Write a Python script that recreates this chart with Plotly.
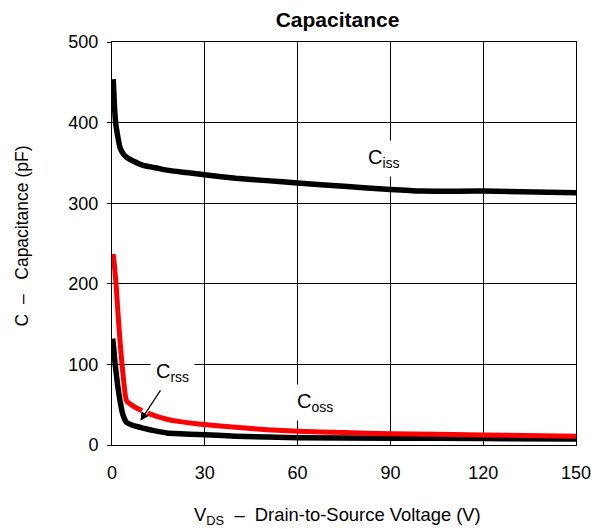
import plotly.graph_objects as go

# Data
v_ciss = [0.4, 0.8, 1.2, 2.0, 2.6, 3.5, 4.7, 7, 10, 14, 17.7, 24, 30.6, 40, 50, 60, 75, 90, 100, 120, 150]
ciss = [454, 420, 399, 380, 369, 362, 357, 352, 347, 344, 341, 338, 335, 331, 328, 325, 321, 317, 315, 315, 313]

v_coss = [0.4, 0.8, 1.3, 2.0, 2.6, 3.5, 4.7, 7, 10, 14, 17.7, 22, 28, 40, 50, 60, 75, 90, 120, 150]
coss = [237, 222, 200, 160, 129, 90, 55, 48, 42, 36, 32, 29, 26, 22, 19, 17, 15.5, 14, 12.5, 11]

v_crss = [0.2, 0.6, 1.0, 1.8, 2.6, 3.5, 4.7, 7, 10, 14, 17.7, 22, 28, 40, 60, 90, 120, 150]
crss = [132, 118, 101, 75, 55, 38, 28, 24, 21, 17.5, 15, 14, 13, 11, 9, 8.5, 8, 7.5]

x_ticks = [0, 30, 60, 90, 120, 150]
y_ticks = [0, 100, 200, 300, 400, 500]

FONT = "Liberation Sans, Arial, sans-serif"

fig = go.Figure()
fig.add_trace(go.Scatter(x=v_ciss, y=ciss, mode="lines", line=dict(color="black", width=5.5, shape="spline", smoothing=0.5), name="Ciss"))
fig.add_trace(go.Scatter(x=v_crss, y=crss, mode="lines", line=dict(color="black", width=5.5, shape="spline", smoothing=0.5), name="Crss"))
fig.add_trace(go.Scatter(x=v_coss, y=coss, mode="lines", line=dict(color="#ff0000", width=5, shape="spline", smoothing=0.5), name="Coss"))

fig.update_layout(
    width=594, height=521,
    margin=dict(l=104, r=26, t=34, b=84),
    paper_bgcolor="white", plot_bgcolor="white",
    showlegend=False,
    font=dict(family=FONT, color="black", size=18),
    title=dict(text="<b>Capacitance</b>", x=0.486, xref="paper", xanchor="center",
               y=1, yref="paper", yanchor="bottom", pad=dict(b=15),
               font=dict(family=FONT, size=21, color="black")),
    xaxis=dict(range=[0, 150], tickvals=x_ticks, showgrid=True, gridcolor="black", gridwidth=1,
               showline=True, linecolor="black", linewidth=1, mirror=True, zeroline=False,
               ticks="outside", ticklen=7, tickcolor="white", ticklabelstandoff=4,
               tickfont=dict(size=18)),
    yaxis=dict(range=[0, 500], tickvals=y_ticks, showgrid=True, gridcolor="black", gridwidth=1,
               showline=True, linecolor="black", linewidth=1, mirror=True, zeroline=False,
               ticks="outside", ticklen=4, tickcolor="black", ticklabelstandoff=5,
               tickfont=dict(size=18)),
)

# axis titles
fig.add_annotation(text="V<sub>DS</sub>  –  Drain-to-Source Voltage (V)", xref="paper", yref="paper",
                   x=0.1724, y=-0.176, xanchor="left", yanchor="middle", showarrow=False,
                   font=dict(size=18.4, family=FONT))
fig.add_annotation(text="C  –   Capacitance (pF)", xref="paper", yref="paper", textangle=-90,
                   x=-0.194, y=0.52, xanchor="center", yanchor="middle", showarrow=False,
                   font=dict(size=17.5, family=FONT))

# white gap under the arrow crossing the red curve
fig.add_annotation(x=9.2, y=32, ax=17, ay=83, xref="x", yref="y", axref="x", ayref="y",
                   text="", showarrow=True, arrowhead=0, arrowwidth=6, arrowcolor="white", standoff=6)
fig.add_annotation(x=9.2, y=30, ax=19.5, ay=90, xref="x", yref="y", axref="x", ayref="y",
                   text="C<sub>rss</sub>", showarrow=True, arrowhead=2, arrowsize=1.3, arrowwidth=1.3,
                   arrowcolor="black", bgcolor="white", borderpad=5,
                   font=dict(size=20, family=FONT))
fig.add_annotation(x=88, y=356, xref="x", yref="y", text="C<sub>iss</sub>", showarrow=False,
                   bgcolor="white", borderpad=5, font=dict(size=20, family=FONT))
fig.add_annotation(x=65.5, y=53, xref="x", yref="y", text="C<sub>oss</sub>", showarrow=False,
                   bgcolor="white", borderpad=5, font=dict(size=20, family=FONT))

fig.write_html("out.html")
